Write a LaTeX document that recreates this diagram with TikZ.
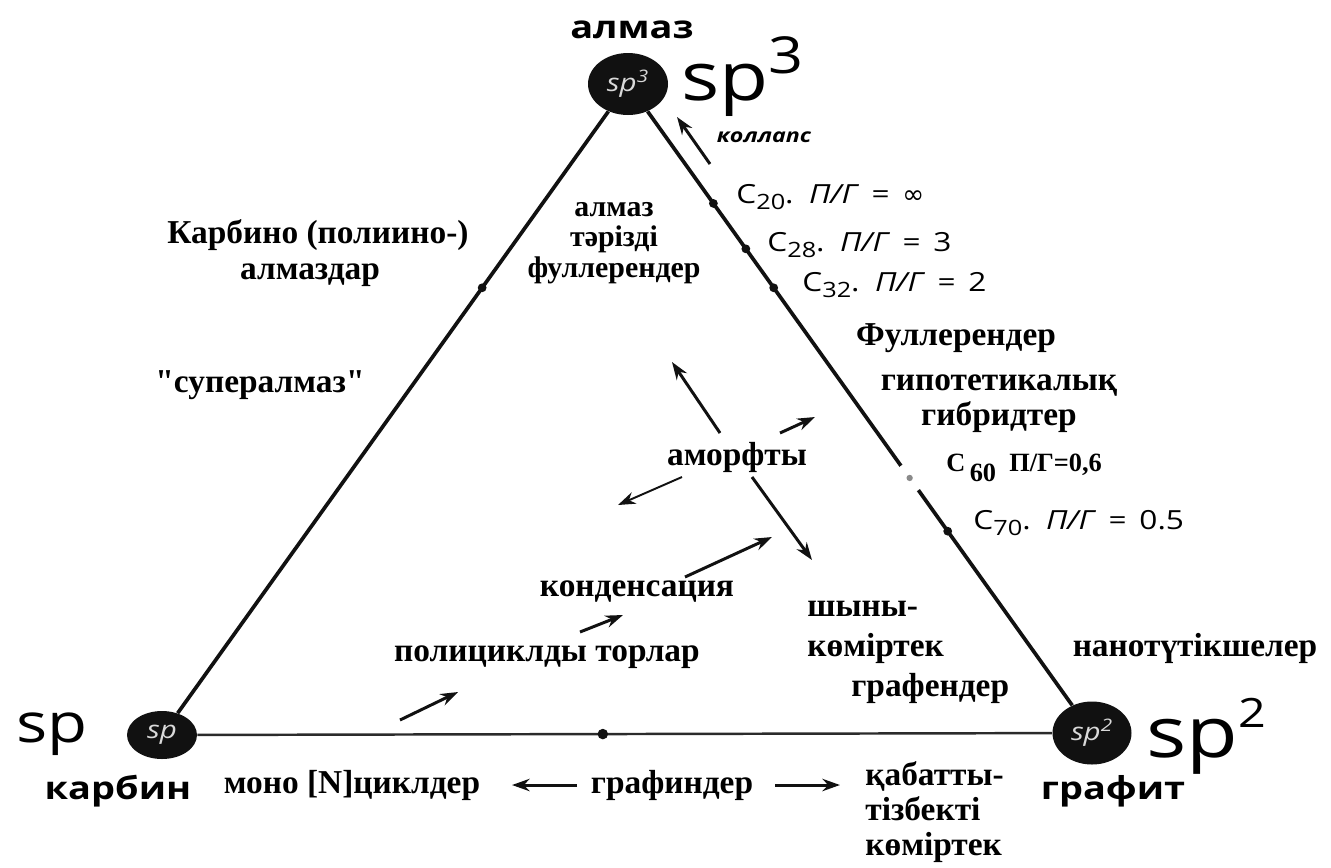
\documentclass[tikz,border=0pt]{standalone}
\usepackage{fontspec}
\setmainfont{Liberation Serif}
\newfontfamily\sanslbl{Open Sans}[FakeStretch=1.2]
\newfontfamily\symbfont{DejaVu Sans}
\usetikzlibrary{shapes.geometric,arrows.meta,calc}
\definecolor{ink}{HTML}{111111}
\definecolor{baseink}{HTML}{2B2B2B}
\definecolor{gapgray}{HTML}{8A8A8A}
\newcommand{\csub}[1]{\raisebox{-3pt}{\fontsize{12}{12}\selectfont #1}}

\begin{document}
\begin{tikzpicture}[x=0.02cm, y=-0.02cm,
  hybrid/.style={ellipse, fill=ink, inner sep=0pt, text=white!85!black, font=\sanslbl\itshape\fontsize{14}{14}\selectfont},
  phase/.style={font=\sanslbl\bfseries\fontsize{18}{18}\selectfont, inner sep=0pt},
  bigsp/.style={inner sep=0pt, anchor=base west},
  lbl/.style={font=\bfseries\fontsize{19}{20}\selectfont, inner sep=0pt, align=center},
  clbl/.style={font=\sanslbl\fontsize{15}{15}\selectfont, inner sep=0pt, anchor=west},
  side/.style={line width=2.1pt, ink},
  dot/.style={circle, fill=ink, inner sep=0pt, minimum size=5pt},
  arr/.style={-{Stealth[length=10pt,width=7pt]}, line width=1.7pt, ink},
]

\useasboundingbox (0,0) rectangle (1331,867);

% Corners: sp3 (top), sp (left), sp2 (right)
\node[hybrid, minimum width=1.6cm, minimum height=1.24cm] (almaz) at (628,84) {sp\textsuperscript{3}};
\node[hybrid, minimum width=1.4cm, minimum height=0.96cm] (karbin) at (162,735) {sp};
\node[hybrid, minimum width=1.58cm, minimum height=1.26cm] (grafit) at (1092,733) {sp\textsuperscript{2}};

% Triangle sides
\draw[side] (karbin) -- (almaz);
\draw[side] (almaz) -- (grafit);
\draw[line width=1.4pt, baseink] (karbin) -- (grafit);

% Points on the sides
\node[dot] (dleft) at ($(karbin)!0.687!(almaz)$) {};
\node[dot, minimum size=6pt] (dbase) at ($(karbin)!0.474!(grafit)$) {};
\node[dot] (d20) at ($(almaz)!0.184!(grafit)$) {};
\node[dot] (d28) at ($(almaz)!0.254!(grafit)$) {};
\node[dot] (d32) at ($(almaz)!0.314!(grafit)$) {};
\node[circle, fill=white, inner sep=0pt, minimum size=17pt] (d60) at ($(almaz)!0.607!(grafit)$) {};
\fill[gapgray] (d60) circle (1.8pt);
\node[dot] (d70) at ($(almaz)!0.689!(grafit)$) {};

% Big hybridisation labels
\node[bigsp, font=\sanslbl\fontsize{38}{38}\selectfont] (sp3) at (681,100) {sp\raisebox{15pt}{\fontsize{29}{29}\selectfont 3}};
\node[bigsp, font=\sanslbl\fontsize{31}{31}\selectfont] (sp1) at (16,742) {sp};
\node[bigsp, font=\sanslbl\fontsize{40}{40}\selectfont] (sp2) at (1146,757) {sp\raisebox{17pt}{\fontsize{23}{23}\selectfont 2}};

% Phase names
\node[phase] (lalmaz) at (632,30) {алмаз};
\node[phase] (lkarbin) at (118,791) {карбин};
\node[phase] (lgrafit) at (1113,791) {графит};

% Collapse arrow
\node[font=\sanslbl\bfseries\itshape\fontsize{11}{11}\selectfont, inner sep=0pt] (kollaps) at (764,137) {коллапс};
\coordinate (k0) at (710,164);
\coordinate (k1) at (677,117);
\draw[arr] (k0) -- (k1);

% Fullerenes along the right side
\node[clbl] (c20) at (736,197) {C\csub{20}.\, \textit{П/Г}\, =\, {\symbfont ∞}};
\node[clbl] (c28) at (767,245) {C\csub{28}.\, \textit{П/Г}\, =\, 3};
\node[clbl] (c32) at (802,285) {C\csub{32}.\, \textit{П/Г}\, =\, 2};
\node[font=\bfseries\fontsize{15}{15}\selectfont, inner sep=0pt, anchor=west] (c60) at (946,468) {C\,\raisebox{-6pt}{60}\enspace П/Г=0,6};
\node[clbl] (c70) at (973,523) {C\csub{70}.\, \textit{П/Г}\, =\, 0.5};

% Left side
\node[lbl] (karbino) at (318,235) {Карбино (полиино-)};
\node[lbl] (almazdar) at (310,275) {алмаздар};
\node[lbl] (super) at (260,385) {\textquotedbl супералмаз\textquotedbl};

% Inside the triangle
\node[lbl, font=\bfseries\fontsize{17}{17.5}\selectfont] (almful) at (614,243) {алмаз\\тәрізді\\фуллерендер};
\node[lbl] (fuller) at (956,338) {Фуллерендер};
\node[lbl] (hybr) at (999,404) {гипотетикалық\\гибридтер};
\node[lbl] (amorf) at (737,457) {аморфты};
\node[lbl] (konden) at (637,592) {конденсация};
\node[lbl] (polic) at (547,657) {полициклды торлар};
\node[lbl, align=left, anchor=west, font=\bfseries\fontsize{19}{22.7}\selectfont] (shyny) at (807,652) {шыны-\\көміртек\\\hspace*{25pt}графендер};
\node[lbl] (nanot) at (1195,648) {нанотүтікшелер};

% Below the base
\node[lbl] (mono) at (352,785) {моно [N]циклдер};
\node[lbl] (grafin) at (672,785) {графиндер};
\node[lbl, align=left, anchor=west, font=\bfseries\fontsize{19}{19.8}\selectfont] (kabat) at (865,812) {қабатты-\\тізбекті\\көміртек};

% Transformation arrows
\coordinate (a1) at (720,433); \coordinate (b1) at (672,362);
\coordinate (a2) at (780,433); \coordinate (b2) at (815,417);
\coordinate (a3) at (682,477); \coordinate (b3) at (618,505);
\coordinate (a4) at (752,477); \coordinate (b4) at (812,560);
\coordinate (a5) at (685,577); \coordinate (b5) at (772,537);
\coordinate (a6) at (580,632); \coordinate (b6) at (623,615);
\coordinate (a7) at (400,720); \coordinate (b7) at (458,692);
\coordinate (a8) at (577,785); \coordinate (b8) at (512,785);
\coordinate (a9) at (775,785); \coordinate (b9) at (840,785);
\draw[arr] (a1) -- (b1);
\draw[arr] (a2) -- (b2);
\draw[arr, line width=1.1pt] (a3) -- (b3);
\draw[arr] (a4) -- (b4);
\draw[arr] (a5) -- (b5);
\draw[arr] (a6) -- (b6);
\draw[arr] (a7) -- (b7);
\draw[arr] (a8) -- (b8);
\draw[arr] (a9) -- (b9);

\end{tikzpicture}
\end{document}
